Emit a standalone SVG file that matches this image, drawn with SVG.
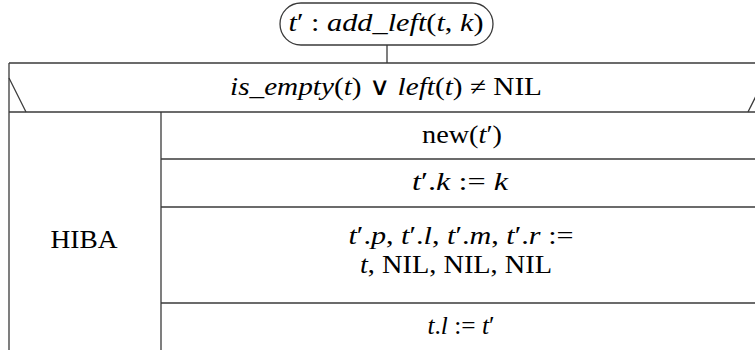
<svg xmlns="http://www.w3.org/2000/svg" width="755" height="350" viewBox="0 0 755 350">
<style>
.ln{stroke:#3a3a3a;stroke-width:1.3;fill:none}
.t{font-family:"Liberation Serif","DejaVu Serif",serif;font-size:25px;fill:#000;text-anchor:middle}
.i{font-style:italic}
</style>
<rect width="755" height="350" fill="#fff"/>
<g id="start">
<rect class="ln" x="280" y="3" width="213" height="42" rx="21" ry="21"/>
<text class="t" x="386" y="31" textLength="195" lengthAdjust="spacingAndGlyphs"><tspan class="i">t</tspan>′ : <tspan class="i">add_left</tspan>(<tspan class="i">t</tspan>, <tspan class="i">k</tspan>)</text>
</g>
<g id="connectors">
<line class="ln" x1="387" y1="45" x2="387" y2="63"/>
</g>
<g id="condition">
<line class="ln" x1="9" y1="63" x2="765" y2="63"/>
<line class="ln" x1="9" y1="112" x2="765" y2="112"/>
<line class="ln" x1="9" y1="78" x2="26" y2="112"/>
<line class="ln" x1="748" y1="112" x2="765" y2="78"/>
<text class="t" x="386" y="95" textLength="312" lengthAdjust="spacingAndGlyphs"><tspan class="i">is_empty</tspan>(<tspan class="i">t</tspan>) ∨ <tspan class="i">left</tspan>(<tspan class="i">t</tspan>) ≠ NIL</text>
</g>
<g id="frame">
<line class="ln" x1="9" y1="63" x2="9" y2="352"/>
<line class="ln" x1="161" y1="112" x2="161" y2="352"/>
</g>
<g id="hiba">
<text class="t" x="84" y="248" textLength="67" lengthAdjust="spacingAndGlyphs">HIBA</text>
</g>
<g id="new">
<line class="ln" x1="161" y1="159" x2="765" y2="159"/>
<text class="t" x="462" y="143" textLength="80" lengthAdjust="spacingAndGlyphs">new(<tspan class="i">t</tspan>′)</text>
</g>
<g id="assign-k">
<line class="ln" x1="161" y1="207" x2="765" y2="207"/>
<text class="t" x="460" y="190" textLength="96" lengthAdjust="spacingAndGlyphs"><tspan class="i">t</tspan>′.<tspan class="i">k</tspan> := <tspan class="i">k</tspan></text>
</g>
<g id="assign-ptrs">
<line class="ln" x1="161" y1="303" x2="765" y2="303"/>
<text class="t" x="461" y="244" textLength="225" lengthAdjust="spacingAndGlyphs"><tspan class="i">t</tspan>′.<tspan class="i">p</tspan>, <tspan class="i">t</tspan>′.<tspan class="i">l</tspan>, <tspan class="i">t</tspan>′.<tspan class="i">m</tspan>, <tspan class="i">t</tspan>′.<tspan class="i">r</tspan> :=</text>
<text class="t" x="456" y="273" textLength="192" lengthAdjust="spacingAndGlyphs"><tspan class="i">t</tspan>, NIL, NIL, NIL</text>
</g>
<g id="assign-l">
<text class="t" x="461" y="334" textLength="67" lengthAdjust="spacingAndGlyphs"><tspan class="i">t</tspan>.<tspan class="i">l</tspan> := <tspan class="i">t</tspan>′</text>
</g>
</svg>
